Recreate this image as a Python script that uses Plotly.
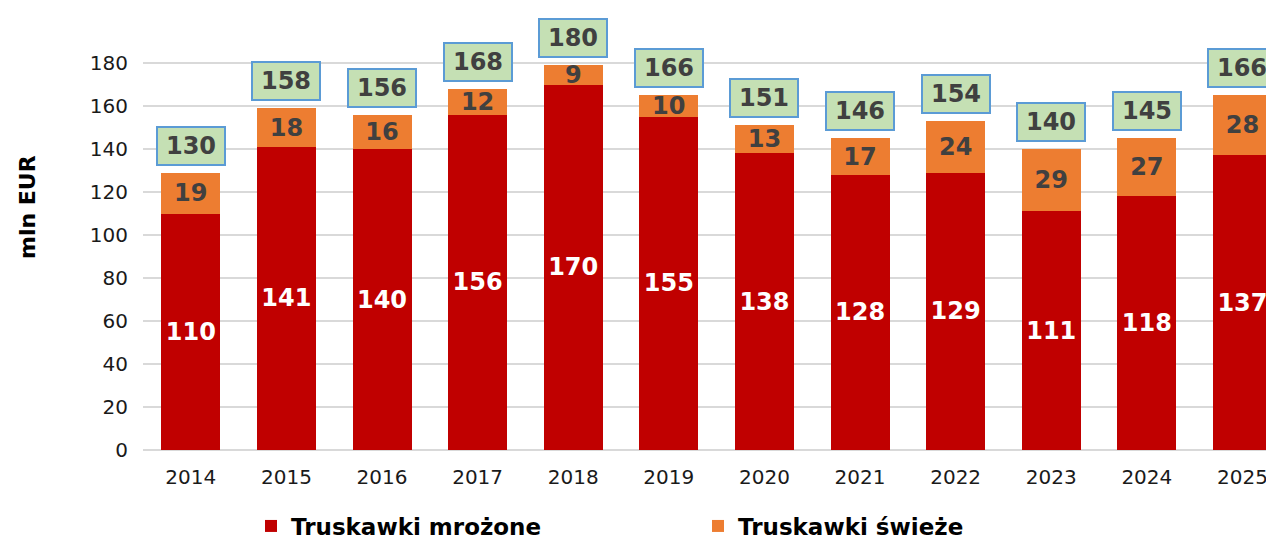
import plotly.graph_objects as go

years = ["2014", "2015", "2016", "2017", "2018", "2019", "2020", "2021", "2022", "2023", "2024", "2025"]
frozen = [110, 141, 140, 156, 170, 155, 138, 128, 129, 111, 118, 137]
fresh = [19, 18, 16, 12, 9, 10, 13, 17, 24, 29, 27, 28]
totals = [130, 158, 156, 168, 180, 166, 151, 146, 154, 140, 145, 166]
yticks = [0, 20, 40, 60, 80, 100, 120, 140, 160, 180]

FONT = "DejaVu Sans"
RED = "#C00000"
ORANGE = "#ED7D31"
DARK = "#404040"

fig = go.Figure()
fig.add_trace(go.Bar(
    x=years, y=frozen, name="Truskawki mrożone",
    marker=dict(color=RED, line=dict(width=0)),
    text=[str(v) for v in frozen], textposition="inside", textangle=0,
    insidetextanchor="middle", constraintext="none",
    textfont=dict(family=FONT, size=24, color="white", weight="bold"),
))
fig.add_trace(go.Bar(
    x=years, y=fresh, name="Truskawki świeże",
    marker=dict(color=ORANGE, line=dict(width=0)),
    text=[str(v) for v in fresh], textposition="inside", textangle=0,
    insidetextanchor="middle", constraintext="none",
    textfont=dict(family=FONT, size=24, color=DARK, weight="bold"),
))

for i, (f, fr, t) in enumerate(zip(frozen, fresh, totals)):
    fig.add_annotation(
        x=i, y=f + fr, xref="x", yref="y", text=str(t),
        showarrow=False, yanchor="bottom", yshift=7,
        width=66, height=36, borderpad=0, borderwidth=2,
        bordercolor="#5B9BD5", bgcolor="#C5E0B4",
        font=dict(family=FONT, size=24, color=DARK, weight="bold"),
    )

fig.add_annotation(
    text="mln EUR", xref="paper", yref="paper", x=0, y=(442 - 199) / 430,
    xshift=-116, xanchor="center", yanchor="middle", textangle=-90, showarrow=False,
    font=dict(family=FONT, size=22, color="black", weight="bold"),
)

fig.update_layout(
    width=1266, height=535,
    margin=dict(l=135, r=0, t=12, b=93, autoexpand=False),
    paper_bgcolor="white", plot_bgcolor="white",
    barmode="stack", bargap=0.383,
    showlegend=True,
    legend=dict(
        orientation="h", traceorder="normal",
        x=(243 - 135) / 1131, xanchor="left",
        y=-(518 - 442) / 430, yanchor="middle",
        entrywidth=402, entrywidthmode="pixels",
        font=dict(family=FONT, size=23, color="black", weight="bold"),
    ),
    xaxis=dict(
        type="category", range=[-0.5, 11.33],
        showgrid=False, showline=False, ticks="",
        tickfont=dict(family=FONT, size=20, color="#1a1a1a"),
        ticklabelstandoff=13,
    ),
    yaxis=dict(
        range=[0, 200], tickvals=yticks,
        showgrid=True, gridcolor="#D9D9D9", gridwidth=2,
        zeroline=True, zerolinecolor="#D9D9D9", zerolinewidth=2,
        showline=False, ticks="",
        tickfont=dict(family=FONT, size=20, color="#1a1a1a"),
        ticklabelstandoff=14,
    ),
)

fig.write_html("out.html")
